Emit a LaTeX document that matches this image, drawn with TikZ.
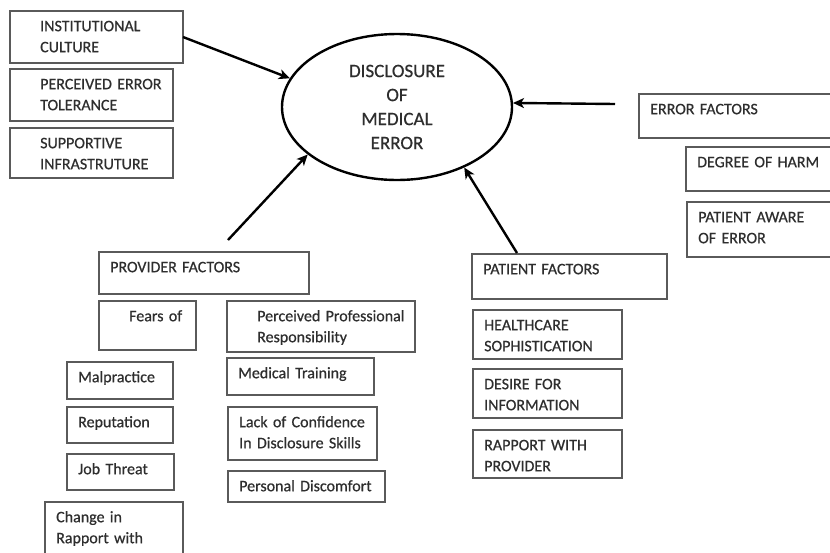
\documentclass[tikz,border=0pt]{standalone}
\usepackage{fontspec}
\setmainfont{Carlito}[FakeBold=0.6]
\usepackage{tikz}
\usetikzlibrary{arrows.meta,positioning,shapes.geometric}
\definecolor{discink}{HTML}{2E2E2E}
\definecolor{discline}{HTML}{5A5A5A}
\newcommand{\cellfont}{\fontsize{16}{21}\selectfont}

\begin{document}
\begin{tikzpicture}[x=1pt,y=-1pt,
  factor/.style={draw=discline,line width=1.5pt,anchor=north west,outer sep=0pt,inner sep=0pt},
  cell/.style={anchor=north west,inner xsep=11pt,inner ysep=0pt,text width=190pt,align=left,text height=20pt,font=\cellfont,text=discink},
  arrow/.style={-{Stealth[length=11pt,width=10pt,inset=3pt]},line width=2.4pt}
]
\useasboundingbox[fill=white] (0,0) rectangle (830,552);
\node[ellipse,draw,line width=2.4pt,minimum width=230pt,minimum height=146pt,align=center,text=discink,font=\fontsize{19}{24}\selectfont] (disc) at (397,107) {DISCLOSURE\\OF\\MEDICAL\\ERROR};

\node[factor,minimum width=173pt,minimum height=52pt,label={[cell,inner xsep=30pt]north west:INSTITUTIONAL\\CULTURE}] (culture) at (10,11) {};
\node[factor,minimum width=163pt,minimum height=52pt,below right=6pt and 0pt of culture.south west,label={[cell,inner xsep=30pt]north west:PERCEIVED ERROR\\TOLERANCE}] (tolerance) {};
\node[factor,minimum width=163pt,minimum height=50pt,below right=7pt and 0pt of tolerance.south west,label={[cell,inner xsep=30pt]north west:SUPPORTIVE\\INFRASTRUTURE}] (support) {};

\node[factor,minimum width=196pt,minimum height=44pt,label={[cell]north west:ERROR FACTORS}] (errfac) at (639,94) {};
\node[factor,minimum width=149pt,minimum height=44pt,below right=9pt and 47pt of errfac.south west,label={[cell]north west:DEGREE OF HARM}] (harm) {};
\node[factor,minimum width=148pt,minimum height=55pt,below right=11pt and 1pt of harm.south west,label={[cell]north west:PATIENT AWARE\\OF ERROR}] (aware) {};

\node[factor,minimum width=210pt,minimum height=42pt,label={[cell]north west:PROVIDER FACTORS}] (provider) at (99,252) {};
\node[factor,minimum width=97pt,minimum height=49pt,below right=7pt and 0pt of provider.south west,label={[cell,inner xsep=30pt]north west:Fears of}] (fears) {};
\node[factor,minimum width=188pt,minimum height=51pt,below right=7pt and 128pt of provider.south west,label={[cell,inner xsep=30pt]north west:Perceived Professional\\Responsibility}] (duty) {};
\node[factor,minimum width=106pt,minimum height=37pt,below right=12pt and -32pt of fears.south west,label={[cell]north west:Malpractice}] (malpractice) {};
\node[factor,minimum width=106pt,minimum height=36pt,below right=8pt and 0pt of malpractice.south west,label={[cell]north west:Reputation}] (reputation) {};
\node[factor,minimum width=107pt,minimum height=36pt,below right=11pt and 0pt of reputation.south west,label={[cell]north west:Job Threat}] (jobthreat) {};
\node[factor,minimum width=138pt,minimum height=60pt,below right=12pt and -22pt of jobthreat.south west,label={[cell]north west:Change in\\Rapport with}] (rapportchg) {};
\node[factor,minimum width=147pt,minimum height=37pt,below right=6pt and 0pt of duty.south west,label={[cell]north west:Medical Training}] (training) {};
\node[factor,minimum width=149pt,minimum height=53pt,below right=12pt and 1pt of training.south west,label={[cell]north west:Lack of Confidence\\In Disclosure Skills}] (confidence) {};
\node[factor,minimum width=157pt,minimum height=31pt,below right=11pt and 0pt of confidence.south west,label={[cell]north west:Personal Discomfort}] (discomfort) {};

\node[factor,minimum width=195pt,minimum height=45pt,label={[cell]north west:PATIENT FACTORS}] (patient) at (472,254) {};
\node[factor,minimum width=149pt,minimum height=49pt,below right=11pt and 1pt of patient.south west,label={[cell]north west:HEALTHCARE\\SOPHISTICATION}] (sophist) {};
\node[factor,minimum width=149pt,minimum height=49pt,below right=10pt and 0pt of sophist.south west,label={[cell]north west:DESIRE FOR\\INFORMATION}] (desire) {};
\node[factor,minimum width=149pt,minimum height=48pt,below right=12pt and 0pt of desire.south west,label={[cell]north west:RAPPORT WITH\\PROVIDER}] (rapport) {};

\draw[arrow] (culture.east) -- (disc.165);
\draw[arrow] ([xshift=24pt,yshift=12pt]provider.north) -- (disc.208);
\draw[arrow] ([xshift=45pt,yshift=1pt]patient.north west) -- (disc.318);
\draw[arrow] ([xshift=-24pt,yshift=-10pt]errfac.north west) -- (disc.2);
\end{tikzpicture}
\end{document}
